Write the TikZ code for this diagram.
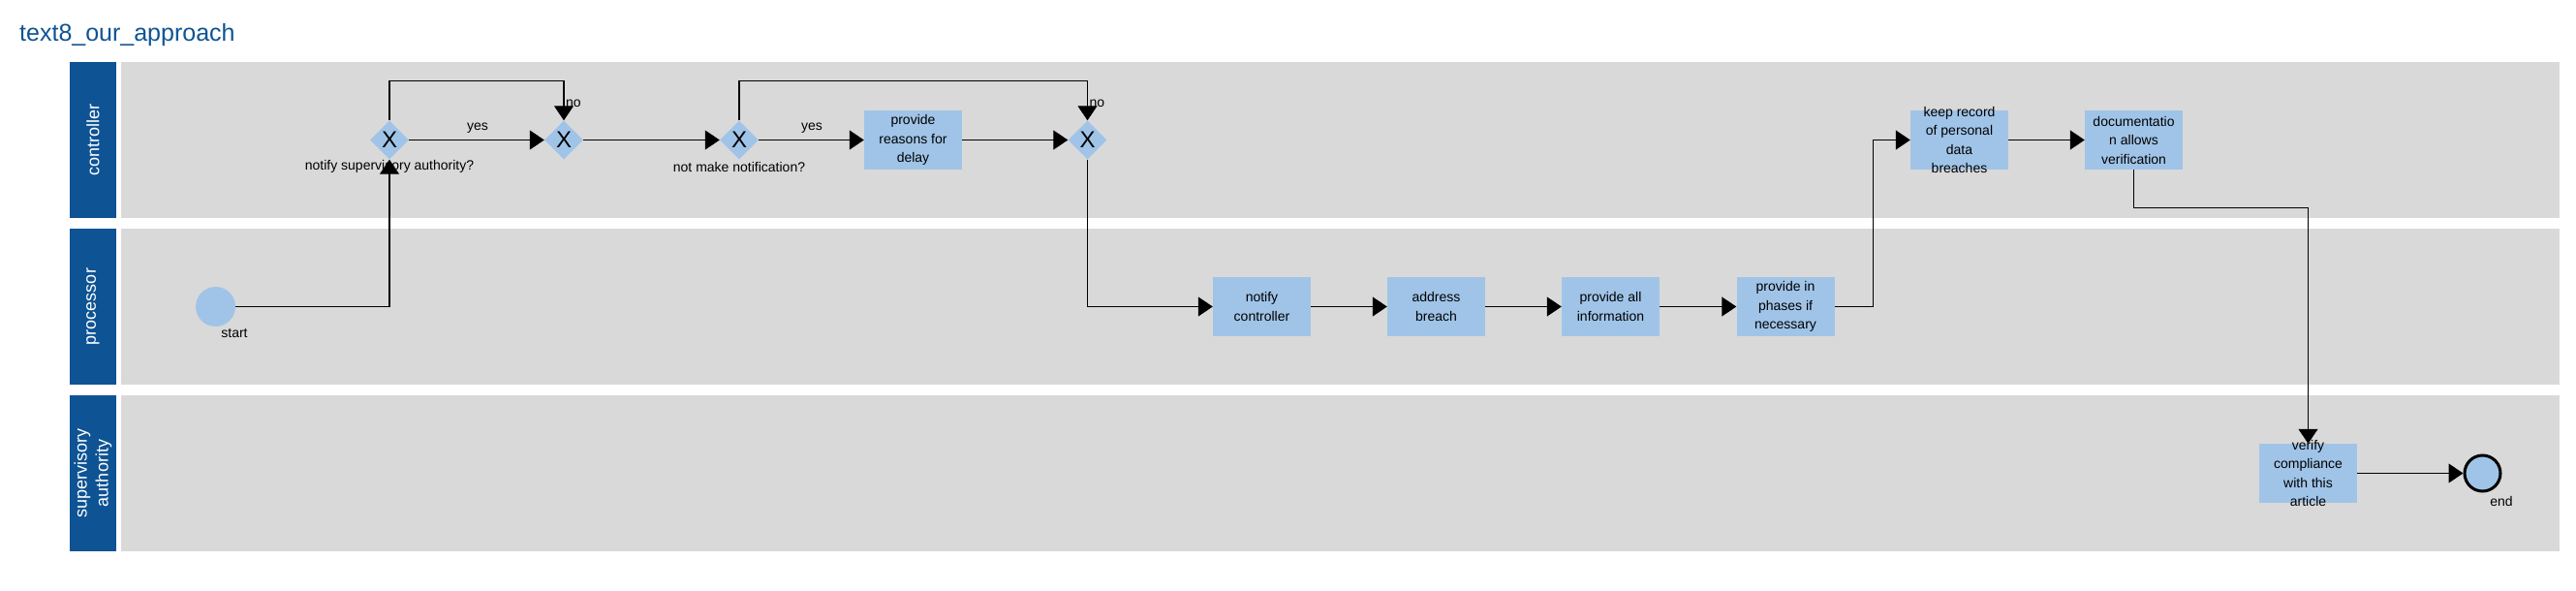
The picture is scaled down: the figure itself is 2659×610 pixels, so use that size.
\documentclass[tikz,border=0pt]{standalone}
\usepackage{fontspec}
\setmainfont{Liberation Sans}
\usetikzlibrary{shapes.geometric,arrows.meta}
\definecolor{hdr}{HTML}{0E5394}
\definecolor{lanegray}{HTML}{D9D9D9}
\definecolor{lb}{HTML}{A0C4E8}
\begin{document}
\begin{tikzpicture}[x=1pt,y=-1pt,
  lanehdr/.style={fill=hdr,draw=none},
  lanebody/.style={fill=lanegray,draw=none},
  hdrtext/.style={text=white,rotate=90,align=center,font=\fontsize{18}{22}\selectfont},
  gw/.style={diamond,fill=lb,draw=none,minimum width=40pt,minimum height=40pt,inner sep=0pt,font=\fontsize{24}{24}\selectfont},
  taskbox/.style={rectangle,fill=lb,draw=none,minimum width=101pt,minimum height=61pt,inner sep=0pt},
  tasktext/.style={align=center,inner sep=0pt,font=\fontsize{14}{19.5}\selectfont},
  lbl/.style={inner sep=0pt,font=\fontsize{14}{16}\selectfont},
  startev/.style={circle,fill=lb,draw=none,minimum size=41pt,inner sep=0pt},
  endev/.style={circle,fill=lb,draw=black,line width=3pt,minimum size=37pt,inner sep=0pt},
  flow/.style={line width=1.1pt,-{Triangle[length=15pt,width=20pt]}}
]
\useasboundingbox (0,0) rectangle (2659,610);
\fill[white] (0,0) rectangle (2659,610);
\node[anchor=base west,inner sep=0pt,text=hdr,font=\fontsize{25}{30}\selectfont] (title) at (20,43) {text8\_our\_approach};
% lanes
\fill[lanehdr] (72,64) rectangle (120,225);
\fill[lanebody] (125,64) rectangle (2642,225);
\fill[lanehdr] (72,236) rectangle (120,397);
\fill[lanebody] (125,236) rectangle (2642,397);
\fill[lanehdr] (72,408) rectangle (120,569);
\fill[lanebody] (125,408) rectangle (2642,569);
\node[hdrtext] (h1) at (96,144.5) {controller};
\node[hdrtext] (h2) at (96,316.5) {processor};
\node[hdrtext] (h3) at (96,488.5) {supervisory\\authority};
% labels (under arrows)
\node[lbl] (l1) at (402,172) {notify supervisory authority?};
\node[lbl] (l2) at (763,172) {not make notification?};
\node[lbl] (ly1) at (493,132) {yes};
\node[lbl] (ly2) at (838,132) {yes};
\node[lbl,anchor=west] (ln1) at (584,107) {no};
\node[lbl,anchor=west] (ln2) at (1124.5,107) {no};
\node[lbl] (lst) at (242,344) {start};
\node[lbl] (len) at (2582,517) {end};
% gateways
\node[gw] (g1) at (402,144.5) {X};
\node[gw] (g2) at (582,144.5) {X};
\node[gw] (g3) at (763,144.5) {X};
\node[gw] (g4) at (1122.5,144.5) {X};
% tasks
\node[taskbox] (t1) at (942.5,144.5) {};
\node[tasktext] (t1t) at (t1) {provide\\reasons for\\delay};
\node[taskbox] (t2) at (2022.5,144.5) {};
\node[tasktext] (t2t) at (t2) {keep record\\of personal\\data\\breaches};
\node[taskbox] (t3) at (2202.5,144.5) {};
\node[tasktext] (t3t) at (t3) {documentatio\\n allows\\verification};
\node[taskbox] (p1) at (1302.5,316.5) {};
\node[tasktext] (p1t) at (p1) {notify\\controller};
\node[taskbox] (p2) at (1482.5,316.5) {};
\node[tasktext] (p2t) at (p2) {address\\breach};
\node[taskbox] (p3) at (1662.5,316.5) {};
\node[tasktext] (p3t) at (p3) {provide all\\information};
\node[taskbox] (p4) at (1843,316.5) {};
\node[tasktext] (p4t) at (p4) {provide in\\phases if\\necessary};
\node[taskbox] (s1) at (2382.5,488.5) {};
\node[tasktext] (s1t) at (s1) {verify\\compliance\\with this\\article};
% events
\node[startev] (st) at (222.5,316.5) {};
\node[endev] (en) at (2562.5,488.5) {};
% flows
\draw[flow] (st.east) -| (g1.south);
\draw[flow] (g1.east) -- (g2.west);
\draw[flow] (g1.north) -- ++(0,-40.5) -| (g2.north);
\draw[flow] (g2.east) -- (g3.west);
\draw[flow] (g3.east) -- (t1.west);
\draw[flow] (g3.north) -- ++(0,-40.5) -| (g4.north);
\draw[flow] (t1.east) -- (g4.west);
\draw[flow] (g4.south) |- (p1.west);
\draw[flow] (p1.east) -- (p2.west);
\draw[flow] (p2.east) -- (p3.west);
\draw[flow] (p3.east) -- (p4.west);
\draw[flow] (p4.east) -- ++(39.5,0) |- (t2.west);
\draw[flow] (t2.east) -- (t3.west);
\draw[flow] (t3.south) -- ++(0,39) -| (s1.north);
\draw[flow] (s1.east) -- (en.west);
\end{tikzpicture}
\end{document}
